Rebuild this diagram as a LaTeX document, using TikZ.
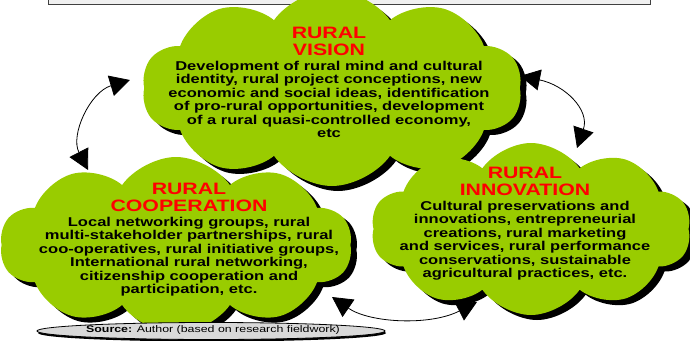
\documentclass[tikz,border=0pt]{standalone}
\usepackage{fontspec}
\newfontfamily\cloudfont[FakeStretch=1.29]{Liberation Sans}
\usetikzlibrary{shapes.symbols,shapes.geometric,shadows,arrows.meta,positioning}
\definecolor{cloudgreen}{RGB}{153,204,0}
\definecolor{titlered}{RGB}{255,0,0}
\definecolor{sourcegray}{RGB}{217,217,217}

\begin{document}
\begin{tikzpicture}[x=1pt, y=-1pt, >={Triangle[length=20pt,width=21pt]},
  cloudbox/.style={cloud, cloud puffs=10, cloud puff arc=110, cloud ignores aspect,
    fill=cloudgreen, inner sep=0pt,
    drop shadow={fill=black, opacity=1, shadow xshift=6pt, shadow yshift=-5pt}},
  titletext/.style={inner sep=0pt, align=center, text=titlered,
    font=\cloudfont\bfseries\fontsize{16.5}{17}\selectfont},
  bodytext/.style={inner sep=0pt, align=center,
    font=\cloudfont\bfseries\fontsize{12.8}{13.5}\selectfont}]
\useasboundingbox (0,0) rectangle (690,340);
\draw[fill=gray!12, draw=gray!50!black, line width=0.8pt] (48,-5) rectangle (650,4);

\node[cloudbox, minimum width=380pt, minimum height=196pt] (vision) at (332,88) {};
\node[cloudbox, minimum width=352pt, minimum height=176pt] (coop) at (176,245) {};
\node[cloudbox, minimum width=320pt, minimum height=172pt] (innov) at (531,229) {};

\node[titletext, anchor=north] (visiontitle) at (329,27) {RURAL\\VISION};
\node[bodytext, below=5pt of visiontitle] (visionbody) {Development of rural mind and cultural\\identity, rural project conceptions, new\\economic and social ideas, identification\\of pro-rural opportunities, development\\of a rural quasi-controlled economy,\\etc};
\node[titletext, anchor=north] (cooptitle) at (189,183) {RURAL\\COOPERATION};
\node[bodytext, below=5pt of cooptitle] (coopbody) {Local networking groups, rural\\multi-stakeholder partnerships, rural\\coo-operatives, rural initiative groups,\\International rural networking,\\citizenship cooperation and\\participation, etc.};
\node[titletext, anchor=north] (innovtitle) at (525,167) {RURAL\\INNOVATION};
\node[bodytext, below=5pt of innovtitle] (innovbody) {Cultural preservations and\\innovations, entrepreneurial\\creations, rural marketing\\and services, rural performance\\conservations, sustainable\\agricultural practices, etc.};

\draw[<->, line width=0.8pt] ([shift={(-202,-8)}]vision.center) .. controls (90,92) and (70,135) .. ([shift={(-88,-75)}]coop.center);
\draw[<->, line width=0.8pt] ([shift={(188,-12)}]vision.center) .. controls (565,85) and (590,110) .. ([shift={(46,-81)}]innov.center);
\draw[<->, line width=0.8pt] ([shift={(156,52)}]coop.center) .. controls (370,323) and (430,326) .. ([shift={(-54,73)}]innov.center);

\node[ellipse, draw, fill=sourcegray, line width=0.8pt, minimum width=348pt, minimum height=17pt,
  drop shadow={fill=black, opacity=1, shadow xshift=1pt, shadow yshift=-2pt}] (source) at (211,331) {};
\node[inner sep=0pt, font=\cloudfont\fontsize{9.6}{11}\selectfont] (sourcetext) at (213,330) {\textbf{Source:} Author (based on research fieldwork)};
\end{tikzpicture}
\end{document}
